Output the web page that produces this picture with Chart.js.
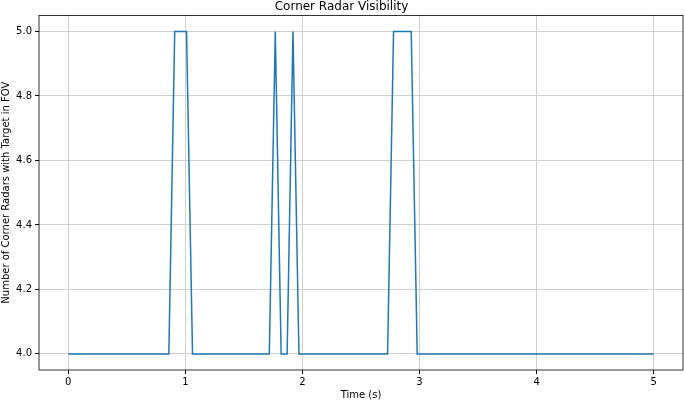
<!DOCTYPE html>
<html>
<head>
<meta charset="utf-8">
<script src="https://cdn.jsdelivr.net/npm/chart.js@4"></script>
<style>
  body { margin: 0; background: #fff; }
  #radar { display: block; }
</style>
</head>
<body>
<canvas id="radar" width="685" height="401"></canvas>
<script>
// points where the count changes (time in s)
const times = [0, 0.859, 0.909, 1.010, 1.061, 1.717, 1.768, 1.818, 1.869, 1.919, 1.970, 2.727, 2.778, 2.929, 2.980, 5];
const radarCount = [4, 4, 5, 5, 4, 4, 5, 4, 4, 5, 4, 4, 5, 5, 4, 4];
const xTicks = [0, 1, 2, 3, 4, 5];
const yTicks = [4.0, 4.2, 4.4, 4.6, 4.8, 5.0];

const font = "DejaVu Sans";

// matplotlib style box around the axes
const frame = {
  id: "frame",
  afterDraw(chart) {
    const a = chart.chartArea;
    const ctx = chart.ctx;
    ctx.save();
    ctx.strokeStyle = "#000";
    ctx.lineWidth = 0.8;
    ctx.strokeRect(a.left, a.top, a.right - a.left, a.bottom - a.top);
    ctx.restore();
  },
};

new Chart(document.getElementById("radar"), {
  type: "line",
  data: {
    datasets: [
      {
        data: times.map((t, i) => ({ x: t, y: radarCount[i] })),
        borderColor: "#1f77b4",
        borderWidth: 1.5,
        pointRadius: 0,
        tension: 0,
        fill: false,
      },
    ],
  },
  options: {
    responsive: false,
    animation: false,
    layout: { padding: { left: 0, right: 2, top: 0, bottom: 0 } },
    plugins: {
      legend: { display: false },
      tooltip: { enabled: false },
      title: {
        display: true,
        text: "Corner Radar Visibility",
        color: "#000",
        font: { family: font, size: 12, weight: "normal" },
        padding: { top: 0, bottom: 1 },
      },
    },
    scales: {
      x: {
        type: "linear",
        min: -0.25,
        max: 5.25,
        afterBuildTicks: (s) => {
          s.ticks = xTicks.map((v) => ({ value: v }));
        },
        afterFit: (s) => {
          s.height = 31;
        },
        ticks: {
          color: "#000",
          font: { family: font, size: 10 },
          padding: 2,
          maxRotation: 0,
          callback: (v) => String(v),
        },
        grid: { color: "#cfcfcf", lineWidth: 1, tickColor: "#000", tickLength: 4 },
        border: { display: false },
        title: {
          display: true,
          text: "Time (s)",
          color: "#000",
          font: { family: font, size: 10 },
          padding: { top: 1, bottom: 0 },
        },
      },
      y: {
        min: 3.95,
        max: 5.05,
        afterBuildTicks: (s) => {
          s.ticks = yTicks.map((v) => ({ value: v }));
        },
        afterFit: (s) => {
          s.width = 39;
        },
        ticks: {
          color: "#000",
          font: { family: font, size: 10 },
          padding: 3,
          callback: (v) => v.toFixed(1),
        },
        grid: { color: "#cfcfcf", lineWidth: 1, tickColor: "#000", tickLength: 4 },
        border: { display: false },
        title: {
          display: true,
          text: "Number of Corner Radars with Target in FOV",
          color: "#000",
          font: { family: font, size: 10 },
          padding: { top: 0, bottom: 0 },
        },
      },
    },
  },
  plugins: [frame],
});
</script>
</body>
</html>
